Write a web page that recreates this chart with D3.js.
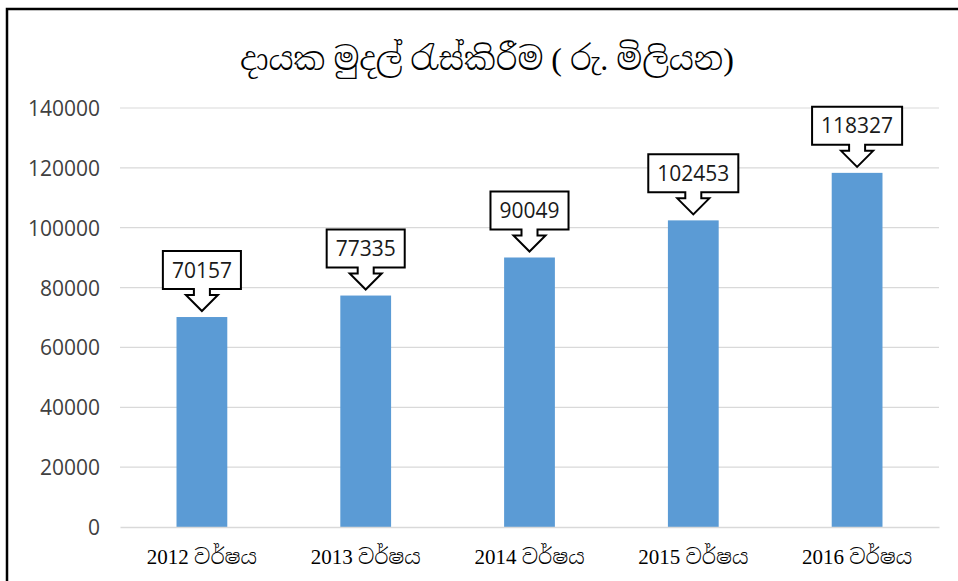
<!DOCTYPE html>
<html><head><meta charset="utf-8">
<script src="https://cdn.jsdelivr.net/npm/d3@7"></script>
<style>body{margin:0;background:#fff}svg{display:block}</style>
</head><body>
<svg id="c" width="958" height="581"></svg>
<script>
const titleText = "දායක මුදල් රැස්කිරීම ( රු. මිලියන)";
const categories = ["2012 වර්ෂය","2013 වර්ෂය","2014 වර්ෂය","2015 වර්ෂය","2016 වර්ෂය"];
const values = [70157, 77335, 90049, 102453, 118327];
const yTicks = [0,20000,40000,60000,80000,100000,120000,140000];

const svg = d3.select("#c");
svg.append("rect").attr("width",958).attr("height",581).attr("fill","#fff");
// outer frame
svg.append("rect").attr("x",7).attr("y",9).attr("width",1000).attr("height",1000)
  .attr("fill","none").attr("stroke","#000").attr("stroke-width",2.5);

const pL=120, pR=939, pT=108, pB=527;
const x = d3.scaleBand().domain(categories).range([pL,pR]).padding(0);
const y = d3.scaleLinear().domain([0,140000]).range([pB,pT]);
const barW = x.bandwidth()*0.31;

const numFont = "'Open Sans', Lato, sans-serif";
const sinhalaSerif = "'Liberation Serif','Noto Serif Sinhala','Noto Sans Sinhala','Iskoola Pota',serif";

// gridlines
svg.append("g").selectAll("line").data(yTicks.filter(d=>d>0)).join("line")
  .attr("x1",pL).attr("x2",pR).attr("y1",d=>y(d)).attr("y2",d=>y(d))
  .attr("stroke","#D9D9D9").attr("stroke-width",1.2);
// y axis labels
const yAxis = d3.axisLeft(y).tickValues(yTicks).tickSize(0).tickPadding(0).tickFormat(d3.format("d"));
const gy = svg.append("g").attr("transform",`translate(100,0)`).call(yAxis);
gy.select(".domain").remove();
gy.selectAll("text").attr("font-family",numFont).attr("font-size",21).attr("fill","#404040")
  .attr("dy","0.36em");

// bars
svg.append("g").selectAll("rect").data(values).join("rect")
  .attr("x",(d,i)=>x(categories[i])+x.bandwidth()/2-barW/2)
  .attr("width",barW)
  .attr("y",d=>y(d)).attr("height",d=>pB-y(d))
  .attr("fill","#5B9BD5");

// baseline axis
const xAxis = d3.axisBottom(x).tickSize(0).tickPadding(0);
const gx = svg.append("g").attr("transform",`translate(0,${pB})`).call(xAxis);
gx.select(".domain").attr("stroke","#D9D9D9").attr("stroke-width",1.5);
gx.selectAll("text").attr("font-family",sinhalaSerif).attr("font-size",21).attr("fill","#000")
  .attr("font-weight",300).attr("dy",0).attr("y",37);

// callouts
const g = svg.append("g");
values.forEach((v,i)=>{
  const cx = x(categories[i])+x.bandwidth()/2;
  const tipY = y(v)-6;
  const headH=16, neckH=6, boxH=38;
  const boxBottom = tipY-headH-neckH;
  const boxTop = boxBottom-boxH;
  const grp = g.append("g");
  const path = grp.append("path").attr("fill","#fff").attr("stroke","#000").attr("stroke-width",2);
  const t = grp.append("text").text(v).attr("x",cx).attr("y",boxTop+boxH/2).attr("dy","0.36em")
    .attr("text-anchor","middle").attr("font-family",numFont).attr("font-size",21).attr("fill","#1a1a1a");
  const tw = t.node().getComputedTextLength();
  const w = tw+18;
  const nk=8, hd=16;
  path.attr("d",`M${cx-w/2},${boxTop}H${cx+w/2}V${boxBottom}H${cx+nk}V${boxBottom+neckH}H${cx+hd}L${cx},${tipY}L${cx-hd},${boxBottom+neckH}H${cx-nk}V${boxBottom}H${cx-w/2}Z`);
});

// title
svg.append("text").text(titleText).attr("x",487).attr("y",70).attr("text-anchor","middle")
  .attr("font-family",sinhalaSerif).attr("font-size",32).attr("font-weight",300).attr("fill","#000");
</script>
</body></html>
